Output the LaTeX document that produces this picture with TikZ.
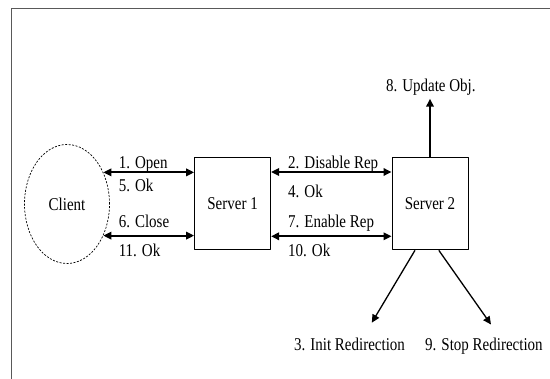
\documentclass[tikz,border=0pt]{standalone}
\usepackage{fontspec}
\setmainfont{Liberation Serif}
\usetikzlibrary{arrows.meta,shapes.geometric}
\newcommand{\tall}[1]{\scalebox{1}[1.2]{#1}}

\begin{document}
\begin{tikzpicture}[x=1pt,y=-1pt,>={Triangle[length=8pt,width=7.5pt]}, font=\fontsize{15}{17}\selectfont, line join=round,
	box/.style={draw,line width=1pt,minimum width=76pt,minimum height=92pt,inner sep=0pt},
	ell/.style={ellipse,draw,dash pattern=on 2pt off 1.5pt,line width=0.7pt,minimum width=85pt,minimum height=119pt,inner sep=0pt},
	lbl/.style={inner sep=0pt,anchor=base west},
	reqarr/.style={<->,line width=1.8pt},
	actarr/.style={->,line width=1.3pt}]
			\useasboundingbox (0,0) rectangle (550,379);
			\draw[gray!70!black,line width=0.8pt] (11,379)--(11,8)--(550,8);
			\node[ell] (client) at (67,204) {\tall{Client}};
			\node[box] (srvA) at (232.6,203.8) {\tall{Server 1}};
			\node[box] (srvB) at (430,203.8) {\tall{Server 2}};
			% messages between client and servers
			\draw[reqarr] (client.41) -- (client.41 -| srvA.west);
			\draw[reqarr] (client.-41) -- (client.-41 -| srvA.west);
			\draw[reqarr] ([yshift=-14.7pt]srvA.north east) -- ([yshift=-14.7pt]srvB.north west);
			\draw[reqarr] ([yshift=14pt]srvA.south east) -- ([yshift=14pt]srvB.south west);
			\foreach \n/\x/\y/\t in {a/118.6/168.4/1. Open, b/118.6/191.2/5. Ok, c/118.6/227.4/6. Close, d/118.6/257/11. Ok,
				e/288/168.4/2. Disable Rep, f/288/197.5/4. Ok, g/288/227.4/7. Enable Rep, h/288/257/10. Ok}
			\node[lbl] (lbl\n) at (\x,\y) {\tall{\t}};
			% actions of server 2
			\node[anchor=base,inner sep=0pt] (upd) at (430.8,92) {\tall{8. Update Obj.}};
			\draw[->,line width=1.8pt,shorten >=2.7pt] (srvB.north) -- (srvB.north |- upd.south);
			\coordinate (initpt) at (371.8,322.7);
			\coordinate (stoppt) at (491,324.5);
			\draw[actarr] ([xshift=-15pt]srvB.south) -- (initpt);
			\draw[actarr] ([xshift=8.8pt]srvB.south) -- (stoppt);
			\node[lbl] (init) at (293.9,350.8) {\tall{3. Init Redirection}};
			\node[lbl] (stop) at (425,350.8) {\tall{9. Stop Redirection}};
		\end{tikzpicture}
\end{document}
